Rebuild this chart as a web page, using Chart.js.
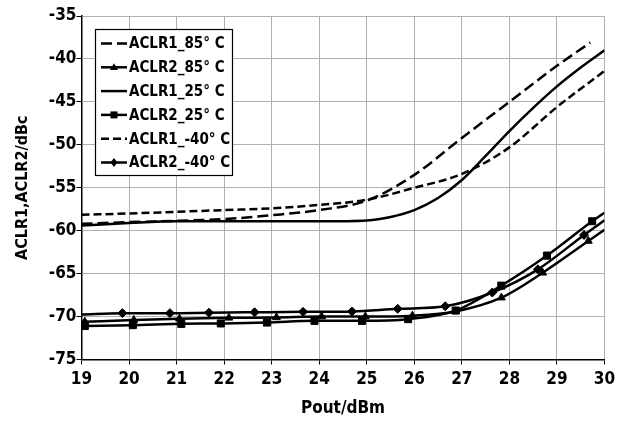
<!DOCTYPE html>
<html>
<head>
<meta charset="utf-8">
<script src="https://cdn.jsdelivr.net/npm/chart.js@4.4.1/dist/chart.umd.min.js"></script>
<style>
  html, body { margin: 0; padding: 0; background: #fff; }
  #wrap { width: 628px; height: 423px; }
</style>
</head>
<body>
<div id="wrap"><canvas id="aclrChart" width="628" height="423"></canvas></div>
<script>
// Series names
const seriesLabels = ["ACLR1_85° C", "ACLR2_85° C", "ACLR1_25° C", "ACLR2_25° C", "ACLR1_-40° C", "ACLR2_-40° C"];

// Axis ticks
const xTicks = [19, 20, 21, 22, 23, 24, 25, 26, 27, 28, 29, 30];
const yTicks = [-75, -70, -65, -60, -55, -50, -45, -40, -35];

// ACLR1 85C
const aclr1_85_x = [19, 20, 21, 22, 23, 24, 25, 26, 27, 28, 29, 29.7];
const aclr1_85_y = [-59.2, -59.0, -58.85, -58.65, -58.2, -57.6, -56.5, -53.5, -49.2, -45.0, -40.8, -38.1];

// ACLR2 85C (triangles)
const aclr2_85_x = [19.07, 20.1, 21.06, 22.1, 23.1, 24.05, 24.97, 25.96, 26.87, 27.83, 28.7, 29.66, 30];
const aclr2_85_y = [-70.6, -70.4, -70.25, -70.15, -70.1, -70.0, -70.0, -69.9, -69.4, -67.8, -64.9, -61.2, -59.9];

// ACLR1 25C
const aclr1_25_x = [19, 20, 21, 22, 23, 24, 25, 25.5, 26, 26.5, 27, 27.5, 28, 28.5, 29, 29.5, 30];
const aclr1_25_y = [-59.4, -59.1, -58.9, -58.9, -58.9, -58.9, -58.8, -58.4, -57.6, -56.2, -54.1, -51.3, -48.4, -45.7, -43.2, -41.0, -39.0];

// ACLR2 25C (squares)
const aclr2_25_x = [19.07, 20.08, 21.1, 21.93, 22.9, 23.9, 24.9, 25.87, 26.87, 27.83, 28.79, 29.74, 30];
const aclr2_25_y = [-71.1, -71.0, -70.85, -70.8, -70.7, -70.5, -70.5, -70.3, -69.3, -66.4, -62.9, -58.9, -57.9];

// ACLR1 -40C
const aclr1_m40_x = [19, 20, 21, 22, 23, 24, 25, 26, 27, 28, 29, 30];
const aclr1_m40_y = [-58.15, -58.0, -57.8, -57.6, -57.4, -57.0, -56.4, -55.0, -53.4, -50.3, -45.6, -41.4];

// ACLR2 -40C (diamonds)
const aclr2_m40_x = [19, 19.86, 20.86, 21.68, 22.64, 23.66, 24.69, 25.65, 26.65, 27.64, 28.6, 29.57, 30];
const aclr2_m40_y = [-69.75, -69.6, -69.6, -69.55, -69.5, -69.45, -69.4, -69.1, -68.8, -67.2, -64.5, -60.5, -58.8];

const FONT = "'Liberation Sans Narrow', 'DejaVu Sans Condensed', sans-serif";

function pts(xs, ys) {
  return xs.map((x, i) => ({ x: x, y: ys[i] }));
}

// markers only where the series had a measured point (ends are line extensions)
function radii(xs, first, last, r) {
  return xs.map((x, i) => ((i === 0 && !first) || (i === xs.length - 1 && !last) ? 0 : r));
}

function lineSet(label, xs, ys, dash) {
  return {
    label: label,
    data: pts(xs, ys),
    borderColor: "#000",
    backgroundColor: "#000",
    borderWidth: 2.5,
    borderDash: dash,
    pointRadius: 0,
    pointStyle: false,
    cubicInterpolationMode: "monotone",
  };
}

function markSet(label, xs, ys, style, first, r) {
  return {
    label: label,
    data: pts(xs, ys),
    borderColor: "#000",
    backgroundColor: "#000",
    borderWidth: 2.5,
    borderDash: [],
    pointStyle: style,
    pointRadius: radii(xs, first, false, r),
    pointBorderWidth: 1,
    cubicInterpolationMode: "monotone",
  };
}

// Legend drawn inside the plot, framed
const boxLegend = {
  id: "boxLegend",
  afterDraw(chart) {
    const ctx = chart.ctx;
    const x0 = 95.5, y0 = 29.5, w = 137, h = 146;
    ctx.save();
    ctx.fillStyle = "#fff";
    ctx.fillRect(x0, y0, w, h);
    ctx.strokeStyle = "#000";
    ctx.lineWidth = 1.2;
    ctx.strokeRect(x0, y0, w, h);
    ctx.font = "bold 15px " + FONT;
    ctx.textBaseline = "middle";
    chart.data.datasets.forEach((ds, i) => {
      const cy = 43.5 + i * 23.8;
      ctx.strokeStyle = "#000";
      ctx.lineWidth = 2.5;
      ctx.setLineDash(ds.borderDash || []);
      ctx.beginPath();
      ctx.moveTo(101, cy);
      ctx.lineTo(127, cy);
      ctx.stroke();
      ctx.setLineDash([]);
      ctx.fillStyle = "#000";
      const mx = 114, r = 4;
      if (ds.pointStyle === "triangle") {
        ctx.beginPath();
        ctx.moveTo(mx, cy - r);
        ctx.lineTo(mx + r, cy + r * 0.7);
        ctx.lineTo(mx - r, cy + r * 0.7);
        ctx.closePath();
        ctx.fill();
      } else if (ds.pointStyle === "rect") {
        ctx.fillRect(mx - 3.5, cy - 3.5, 7, 7);
      } else if (ds.pointStyle === "rectRot") {
        ctx.beginPath();
        ctx.moveTo(mx, cy - 4.5);
        ctx.lineTo(mx + 3.5, cy);
        ctx.lineTo(mx, cy + 4.5);
        ctx.lineTo(mx - 3.5, cy);
        ctx.closePath();
        ctx.fill();
      }
      ctx.fillText(ds.label, 129, cy + 1);
    });
    ctx.restore();
  },
};

const ctx = document.getElementById("aclrChart");
new Chart(ctx, {
  type: "line",
  data: {
    datasets: [
      lineSet(seriesLabels[0], aclr1_85_x, aclr1_85_y, [11, 5]),
      markSet(seriesLabels[1], aclr2_85_x, aclr2_85_y, "triangle", true, 4.5),
      lineSet(seriesLabels[2], aclr1_25_x, aclr1_25_y, []),
      markSet(seriesLabels[3], aclr2_25_x, aclr2_25_y, "rect", true, 5),
      lineSet(seriesLabels[4], aclr1_m40_x, aclr1_m40_y, [8, 4]),
      markSet(seriesLabels[5], aclr2_m40_x, aclr2_m40_y, "rectRot", false, 4.5),
    ],
  },
  options: {
    responsive: false,
    animation: false,
    devicePixelRatio: 1,
    layout: { padding: { left: 0, top: 16, right: 23.5, bottom: 0 } },
    plugins: {
      legend: { display: false },
      tooltip: { enabled: false },
    },
    scales: {
      x: {
        type: "linear",
        min: xTicks[0],
        max: xTicks[xTicks.length - 1],
        afterBuildTicks(scale) {
          scale.ticks = xTicks.map((v) => ({ value: v }));
        },
        afterFit(scale) {
          scale.height = 423 - 359.5;
        },
        grid: { color: "#b0b0b0", lineWidth: 1, tickLength: 5, tickColor: "#000" },
        border: { color: "#000", width: 1.5 },
        ticks: { color: "#000", padding: 5, font: { family: FONT, size: 17, weight: "bold" } },
        title: {
          display: true,
          text: "Pout/dBm",
          color: "#000",
          padding: { top: 2, bottom: 4 },
          font: { family: FONT, size: 17, weight: "bold" },
        },
      },
      y: {
        type: "linear",
        min: yTicks[0],
        max: yTicks[yTicks.length - 1],
        afterBuildTicks(scale) {
          scale.ticks = yTicks.map((v) => ({ value: v }));
        },
        afterFit(scale) {
          scale.width = 81.5;
        },
        grid: { color: "#b0b0b0", lineWidth: 1, tickLength: 5, tickColor: "#000" },
        border: { color: "#000", width: 1.5 },
        ticks: { color: "#000", padding: 0, font: { family: FONT, size: 17, weight: "bold" } },
        title: {
          display: true,
          text: "ACLR1,ACLR2/dBc",
          color: "#000",
          padding: { top: 13, bottom: 0 },
          font: { family: FONT, size: 16, weight: "bold" },
        },
      },
    },
  },
  plugins: [boxLegend],
});
</script>
</body>
</html>
